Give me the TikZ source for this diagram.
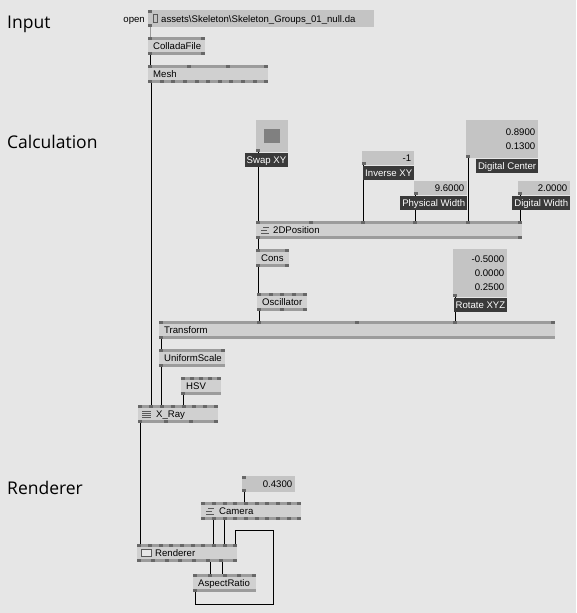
\documentclass[tikz,border=0pt]{standalone}
\usepackage{fontspec}
\setmainfont{Liberation Sans}
\newfontfamily\headfont{Open Sans}
\usetikzlibrary{calc, backgrounds}
\definecolor{cpage}{HTML}{E6E6E6}
\definecolor{cbody}{HTML}{D0D0D0}
\definecolor{cstrip}{HTML}{9C9C9C}
\definecolor{cpin}{HTML}{686868}
\definecolor{cval}{HTML}{C4C4C4}
\definecolor{ctag}{HTML}{3A3A3A}
\definecolor{ctoggle}{HTML}{808080}
\newcommand\pinrow[3]{%
  \ifnum#1>0
  \foreach \i in {1,...,#1}
    \fill[cpin] ($(path picture bounding box.#2 west)!{(\i-1)/max(#1-1,1)}!([xshift=-4pt]path picture bounding box.#2 east)$) rectangle ++(4pt,#3);
  \fi}

\begin{document}
\begin{tikzpicture}[
    x=1pt, y=-1pt,
    nodefont/.style={font=\fontsize{9.6}{14.2}\selectfont},
    headtxt/.style={font=\headfont\fontsize{17.5}{21}\selectfont, anchor=base west, inner sep=0pt},
    nodebox/.style={anchor=north west, fill=cbody, minimum height=18pt, inner xsep=5pt, inner ysep=0pt, text width=#1, align=left, text height=6.8pt, text depth=0pt, nodefont},
    valbox/.style={anchor=north west, fill=cval, inner xsep=3pt, inner ysep=0pt, text width=#1, align=right, text height=6.8pt, text depth=0pt, minimum height=14pt, nodefont},
    tagbox/.style={anchor=north east, fill=ctag, text=white, minimum height=14pt, inner xsep=2pt, inner ysep=0pt, text height=6.8pt, text depth=0pt, nodefont},
    pins/.style 2 args={path picture={
        \fill[cstrip] (path picture bounding box.north west) rectangle ([yshift=-3pt]path picture bounding box.north east);
        \fill[cstrip] ([yshift=3pt]path picture bounding box.south west) rectangle (path picture bounding box.south east);
        \pinrow{#1}{north}{-3pt}\pinrow{#2}{south}{3pt}}},
    iopins/.style 2 args={path picture={\pinrow{#1}{north}{-3pt}\pinrow{#2}{south}{3pt}}},
    wire/.style={draw=black, line width=0.9pt},
    ico/.style={draw=black!65, line width=0.9pt}
]
\useasboundingbox (0,0) rectangle (576,613);

% Input
\node[headtxt] (hinput) at (7,28) {Input};
\node[nodefont, anchor=base east, inner sep=0pt] (opentxt) at (145,22) {open};
\node[valbox=216pt, align=left, inner xsep=5pt, minimum height=17pt, iopins={1}{1}] (openbox) at (148,10) {\hspace*{8pt}assets\textbackslash Skeleton\textbackslash Skeleton\_Groups\_01\_null.da};
\node[nodebox=47pt, pins={2}{2}] (colladafile) at (148,37) {ColladaFile};
\node[nodebox=110pt, pins={4}{11}] (mesh) at (148,65) {Mesh};

% Calculation
\node[headtxt] (hcalc) at (7,148) {Calculation};
\node[valbox=26pt, minimum height=32pt, path picture={\pinrow{1}{south}{3pt}
    \fill[ctoggle] ([shift={(-8pt,-7pt)}]path picture bounding box.center) rectangle ++(16pt,14pt);}] (swapxy) at (256,120) {};
\node[tagbox] (swapxytag) at (swapxy.south east) {Swap XY};
\node[valbox=46pt, iopins={0}{1}] (invxy) at (362,151) {-1};
\node[tagbox] (invxytag) at (invxy.south east) {Inverse XY};
\node[valbox=66pt, minimum height=38pt, text depth=14.2pt, iopins={0}{1}] (digcenter) at (466,120) {0.8900\\0.1300};
\node[tagbox] (digcentertag) at (digcenter.south east) {Digital Center};
\node[valbox=47pt, iopins={0}{1}] (physwidth) at (414,181) {9.6000};
\node[tagbox] (physwidthtag) at (physwidth.south east) {Physical Width};
\node[valbox=46pt, iopins={0}{1}] (digwidth) at (518,181) {2.0000};
\node[tagbox] (digwidthtag) at (digwidth.south east) {Digital Width};
\node[nodebox=256pt, pins={6}{2}] (pos2d) at (256,221) {\hspace*{12pt}2DPosition};
\node[nodebox=23pt, pins={2}{2}] (cons) at (256,249) {Cons};
\node[nodebox=40pt, pins={5}{3}] (osc) at (257,293) {Oscillator};
\node[valbox=48pt, minimum height=48pt, text depth=28.4pt, iopins={0}{1}] (rotxyz) at (453,249) {-0.5000\\0.0000\\0.2500};
\node[tagbox] (rotxyztag) at (rotxyz.south east) {Rotate XYZ};
\node[nodebox=386pt, pins={5}{1}] (transform) at (159,321) {Transform};
\node[nodebox=56pt, pins={2}{1}] (uscale) at (159,349) {UniformScale};
\node[nodebox=30pt, pins={5}{1}] (hsv) at (181,377) {HSV};
\node[nodebox=70pt, pins={8}{4}] (xray) at (138,405) {\hspace*{13pt}X\_Ray};

% Renderer
\node[headtxt] (hrender) at (7,494) {Renderer};
\node[valbox=47pt, minimum height=16pt, iopins={1}{1}] (camval) at (242,476) {0.4300};
\node[nodebox=90pt, pins={10}{10}] (camera) at (201,502) {\hspace*{13pt}Camera};
\node[nodebox=90pt, pins={10}{8}] (renderer) at (137,544) {\hspace*{13pt}Renderer};
\node[nodebox=53pt, pins={5}{1}] (aspect) at (193,574) {AspectRatio};
\coordinate (loopbr) at (273,604);
\coordinate (looptr) at (273,530);

% icons
\draw[ico, line width=0.6pt] ([xshift=5pt,yshift=4pt]openbox.west) rectangle ++(4.5pt,-8pt);
\draw[ico] ([xshift=7pt,yshift=3pt]pos2d.west) -- ++(6pt,0pt);
\draw[ico] ([xshift=5pt]pos2d.west) -- ++(6pt,0pt);
\draw[ico] ([xshift=5pt,yshift=-3pt]pos2d.west) -- ++(8pt,0pt);
\draw[ico] ([xshift=7pt,yshift=3pt]camera.west) -- ++(6pt,0pt);
\draw[ico] ([xshift=5pt]camera.west) -- ++(6pt,0pt);
\draw[ico] ([xshift=5pt,yshift=-3pt]camera.west) -- ++(8pt,0pt);
\foreach \k in {3,1,-1,-3}
  \draw[ico, line width=0.7pt] ([xshift=4pt,yshift=\k pt]xray.west) -- ++(9pt,0pt);
\draw[ico, line width=0.8pt, fill=cbody!50!white] ([xshift=4pt,yshift=4pt]renderer.west) rectangle ++(10pt,-7.5pt);

% links
\begin{scope}[on background layer]
\fill[cpage] (0,0) rectangle (576,613);
\draw[wire, draw=black!40] ([xshift=2pt]openbox.south west) -- ([xshift=2pt]colladafile.north west);
\draw[wire] ([xshift=2pt]colladafile.south west) -- ([xshift=2pt]mesh.north west);
\draw[wire] ([xshift=3pt]mesh.south west) -- ([xshift=13pt]xray.north west);
\draw[wire] ([xshift=2pt]swapxy.south west) -- ([xshift=2pt]pos2d.north west);
\draw[wire] ([xshift=1pt]invxy.south west) -- ([xshift=107pt]pos2d.north west);
\draw[wire] ([xshift=1pt]physwidth.south west) -- ([xshift=159pt]pos2d.north west);
\draw[wire] ([xshift=2pt]digcenter.south west) -- ([xshift=212pt]pos2d.north west);
\draw[wire] ([xshift=2pt]digwidth.south west) -- ([xshift=264pt]pos2d.north west);
\draw[wire] ([xshift=2pt]pos2d.south west) -- ([xshift=2pt]cons.north west);
\draw[wire] ([xshift=2.5pt]cons.south west) -- ([xshift=1.5pt]osc.north west);
\draw[wire] ([xshift=2pt]osc.south west) -- ([xshift=100pt]transform.north west);
\draw[wire] ([xshift=2pt]rotxyz.south west) -- ([xshift=296pt]transform.north west);
\draw[wire] ([xshift=2pt]transform.south west) -- ([xshift=2pt]uscale.north west);
\draw[wire] ([xshift=2.5pt]uscale.south west) -- ([xshift=23.5pt]xray.north west);
\draw[wire] ([xshift=2pt]hsv.south west) -- ([xshift=45pt]xray.north west);
\draw[wire] ([xshift=2pt]xray.south west) -- ([xshift=3pt]renderer.north west);
\draw[wire] ([xshift=2pt]camval.south west) -- ([xshift=43pt]camera.north west);
\draw[wire] ([xshift=12.7pt]camera.south west) -- ([xshift=76.7pt]renderer.north west);
\draw[wire] ([xshift=23.3pt]camera.south west) -- ([xshift=87.3pt]renderer.north west);
\draw[wire] ([xshift=73pt]renderer.south west) -- ([xshift=17pt]aspect.north west);
\draw[wire] ([xshift=85pt]renderer.south west) -- ([xshift=29pt]aspect.north west);
\draw[wire] ([xshift=2pt]aspect.south west) |- (loopbr) -- (looptr) -| ([xshift=98pt]renderer.north west);
\end{scope}
\end{tikzpicture}
\end{document}
